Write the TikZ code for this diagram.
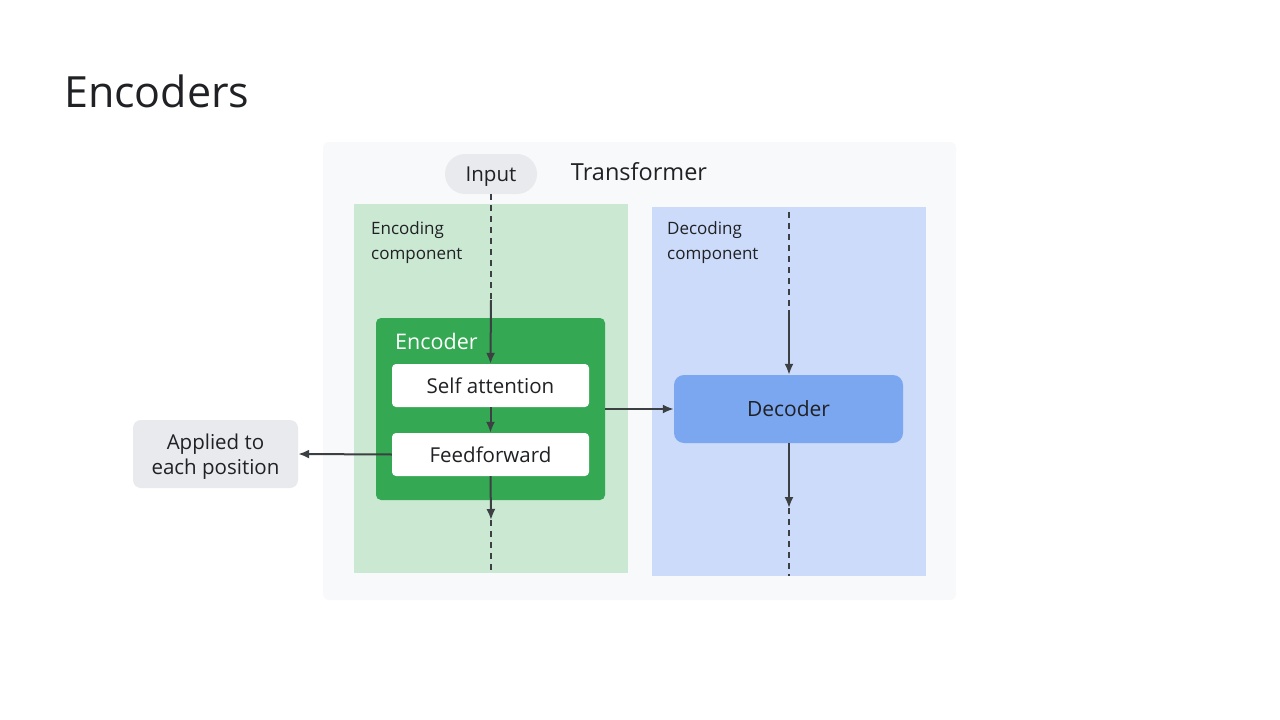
\documentclass[tikz,border=0pt]{standalone}
\usepackage{fontspec}
\setmainfont{Open Sans}
\usepackage{tikz}
\usetikzlibrary{arrows.meta}

\definecolor{panelgray}{HTML}{F8F9FA}
\definecolor{pillgray}{HTML}{E8EAED}
\definecolor{encpanel}{HTML}{CAE8D2}
\definecolor{encgreen}{HTML}{34A853}
\definecolor{decpanel}{HTML}{CCDBF9}
\definecolor{decblue}{HTML}{7BA7F0}
\definecolor{arrowgray}{HTML}{3C4043}
\definecolor{textdark}{HTML}{202124}

\newcommand{\fs}[2]{\fontsize{#1}{#2}\selectfont}

\tikzset{
  block/.style={rounded corners=4pt, fill=white, minimum width=197pt, minimum height=43pt, inner sep=0pt, text depth=0pt, text=textdark, font=\fs{20.5}{25}},
  flow/.style={draw=arrowgray, line width=2pt, -{Latex[length=11pt,width=9pt]}},
  dashflow/.style={draw=arrowgray, line width=2pt, dash pattern=on 6pt off 5pt},
  sidenote/.style={anchor=north west, align=left, text=textdark, font=\fs{17}{25}, inner sep=0pt},
}

\begin{document}
\begin{tikzpicture}[x=1pt,y=-1pt]
  %
  \useasboundingbox[fill=white] (0,0) rectangle (1280,720);
  %
  % TITLE
  \node[anchor=west, text=textdark, font=\fs{43}{50}, inner sep=0pt] (title) at (64,91) {Encoders};
  %
  % TRANSFORMER
  \fill[panelgray, rounded corners=6pt] (323,142) rectangle (956,600);
  \node[text=textdark, font=\fs{23.5}{28}] (transformer) at (639,172) {Transformer};
  \node[fill=pillgray, rounded corners=20pt, minimum width=92pt, minimum height=40pt, inner sep=0pt, text depth=0pt, text=textdark, font=\fs{20.5}{25}] (input) at (491,174) {Input};
  %
  % ENCODING COMPONENT
  \fill[encpanel] (354,204) rectangle (628,573);
  \node[sidenote] (enclabel) at (371,221) {Encoding\\component};
  \node[fill=encgreen, rounded corners=5pt, minimum width=229pt, minimum height=182pt, inner sep=0pt] (encoder) at (490.5,409) {};
  \node[anchor=west, text=white, font=\fs{21.5}{25}, inner sep=0pt] (enctitle) at (395,341) {Encoder};
  \node[block] (selfatt) at (490.5,385.5) {Self attention};
  \node[block] (feedfwd) at (490.5,454.5) {Feedforward};
  %
  % DECODING COMPONENT
  \fill[decpanel] (652,207) rectangle (926,576);
  \node[sidenote] (declabel) at (667,221) {Decoding\\component};
  \node[fill=decblue, rounded corners=10pt, minimum width=229pt, minimum height=68pt, inner sep=0pt, text depth=0pt, text=textdark, font=\fs{21}{25}] (decoder) at (788.5,409) {Decoder};
  %
  % SIDE NOTE
  \node[fill=pillgray, rounded corners=8pt, minimum width=165pt, minimum height=68pt, inner sep=0pt, text depth=0pt, align=center, text=textdark, font=\fs{20.5}{25}] (applied) at (215.5,454) {Applied to\\each position};
  %
  % CONNECTIONS
  \coordinate (encin) at (491,300);
  \coordinate (encout) at (491,520);
  \coordinate (encend) at (491,573);
  \coordinate (decstart) at (789,212);
  \coordinate (decin) at (789,310);
  \coordinate (decout) at (789,508);
  \coordinate (decend) at (789,576);
  %
  \draw[dashflow] (input.south) -- (encin);
  \draw[flow] (encin) -- (selfatt.north);
  \draw[flow] (selfatt.south) -- (feedfwd.north);
  \draw[flow] (feedfwd.south) -- (encout);
  \draw[dashflow] (encout) -- (encend);
  \draw[flow] (feedfwd.west) -- (applied.east);
  \draw[flow] (encoder.east) -- (decoder.west);
  \draw[dashflow] (decstart) -- (decin);
  \draw[flow] (decin) -- (decoder.north -| decin);
  \draw[flow] (decoder.south -| decout) -- (decout);
  \draw[dashflow] (decout) -- (decend);
  %
\end{tikzpicture}
\end{document}
